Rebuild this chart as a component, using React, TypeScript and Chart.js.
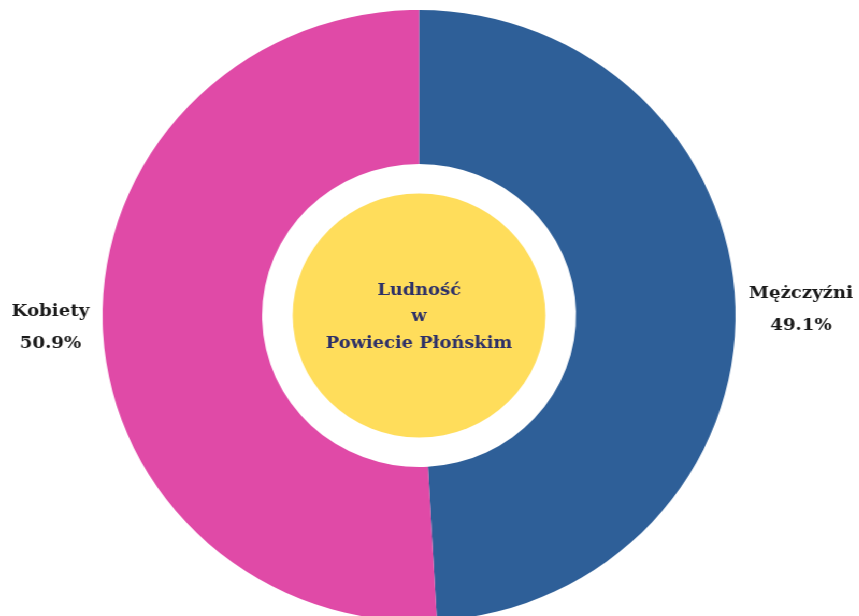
import React, { useEffect, useRef } from "react";
import { Chart, registerables } from "chart.js";

Chart.register(...registerables);

const categories = ["Mężczyźni", "Kobiety"];
const values = [49.1, 50.9];
const sliceColors = ["#2E5F98", "#E04AA7"];
const centerLines = ["Ludność", "w", "Powiecie Płońskim"];

const labelFont = "bold 17.5px 'DejaVu Serif'";
const centerFont = "bold 17.2px 'DejaVu Serif'";
const centerColor = "#2D3068";
const holeColor = "#FFDD5B";

const labelsPlugin = {
  id: "labelsPlugin",
  afterDatasetsDraw(chart: any) {
    const meta = chart.getDatasetMeta(0);
    const arcs = meta.data;
    if (!arcs.length) return;
    const ctx = chart.ctx;
    const a0 = arcs[0];
    const cx = a0.x;
    const cy = a0.y;
    const R = a0.outerRadius;
    const r = a0.innerRadius;
    ctx.save();
    // yellow center disc
    ctx.fillStyle = holeColor;
    ctx.beginPath();
    ctx.arc(cx, cy, r * 0.805, 0, Math.PI * 2);
    ctx.fill();
    // center text
    ctx.fillStyle = centerColor;
    ctx.font = centerFont;
    ctx.textAlign = "center";
    ctx.textBaseline = "middle";
    const lh = 26.5;
    centerLines.forEach((t, i) => {
      ctx.fillText(t, cx, cy + (i - 1) * lh + 1.5);
    });
    // slice labels
    ctx.fillStyle = "#1a1a1a";
    ctx.font = labelFont;
    arcs.forEach((arc: any, i: number) => {
      const mid = (arc.startAngle + arc.endAngle) / 2;
      const px = cx + Math.cos(mid) * (R + 13);
      const py = cy + Math.sin(mid) * (R + 13);
      const lines = [categories[i], values[i].toFixed(1) + "%"];
      const w = Math.max(...lines.map((l) => ctx.measureText(l).width));
      const right = Math.cos(mid) >= 0;
      const bx = right ? px + w / 2 : px - w / 2;
      ctx.textAlign = "center";
      ctx.fillText(lines[0], bx, py - 13);
      ctx.fillText(lines[1], bx, py + 19);
    });
    ctx.restore();
  },
};

export default function App() {
  const ref = useRef<HTMLCanvasElement>(null);
  useEffect(() => {
    if (!ref.current) return;
    const chart = new Chart(ref.current, {
      type: "doughnut",
      data: {
        labels: categories,
        datasets: [
          {
            data: values,
            backgroundColor: sliceColors,
            borderWidth: 0,
          },
        ],
      },
      options: {
        animation: false,
        responsive: false,
        events: [],
        cutout: "49.6%",
        layout: { padding: { left: 99, right: 119, top: 10, bottom: 19 } },
        plugins: {
          legend: { display: false },
          tooltip: { enabled: false },
        },
      },
      plugins: [labelsPlugin],
    });
    return () => chart.destroy();
  }, []);
  return (
    <div
      style={{
        position: "fixed",
        left: 0,
        top: 0,
        width: 829,
        height: 640,
        transform: "scaleX(1.036)",
        transformOrigin: "0 0",
        background: "#fff",
      }}
    >
      <canvas ref={ref} width={829} height={640} />
    </div>
  );
}
